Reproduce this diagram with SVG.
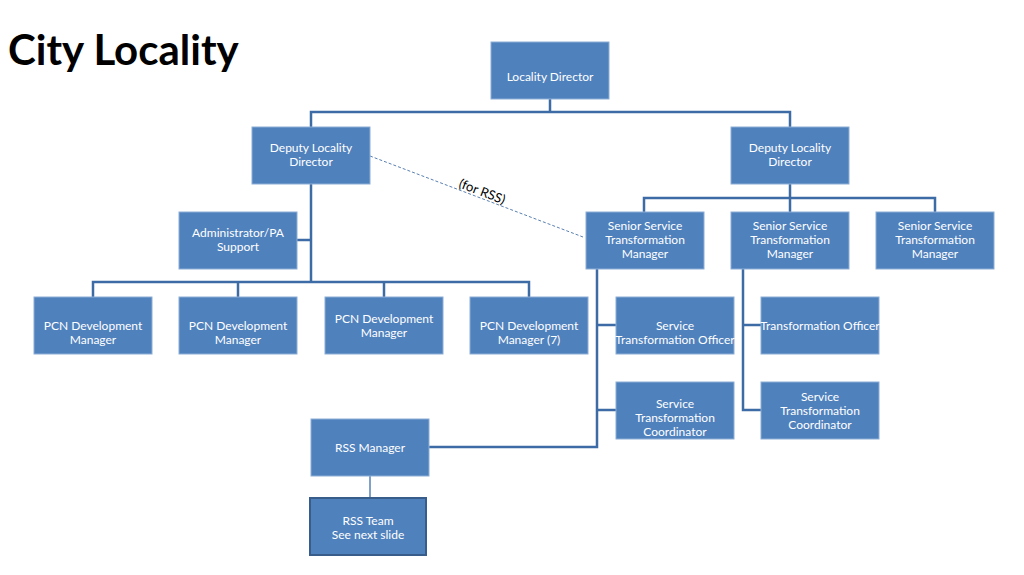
<svg xmlns="http://www.w3.org/2000/svg" width="1024" height="575" viewBox="0 0 1024 575">
<style>
.b{fill:#4f81bd;stroke:#8eaed6;stroke-width:1}
.t{font-family:Lato,"Liberation Sans",sans-serif;font-size:12px;fill:#fff;text-anchor:middle}
.c{fill:none;stroke:#3d6ba5;stroke-width:2.5}
</style>
<rect width="1024" height="575" fill="#fff"/>
<text x="8" y="65" font-family="Lato,'Liberation Sans',sans-serif" font-weight="bold" font-size="42" fill="#000">City Locality</text>
<g id="connectors">
<path class="c" d="M550,99V112M311,127V112H790V127"/>
<path class="c" d="M311,184V282M297,240H311M93,297V282H529V297M238,282V297M384,282V297"/>
<path class="c" d="M790,184V198M644,212V198H935V212M790,198V212"/>
<path class="c" d="M597,269V447H429M597,325H616M597,410H616"/>
<path class="c" d="M743,269V410H761M743,325H761"/>
<path d="M370,476V498" stroke="#7fa0c8" stroke-width="2"/>
<path d="M370,156L583,237" stroke="#5a80b0" stroke-width="1" stroke-dasharray="3,2" fill="none"/>
<text x="482" y="196" transform="rotate(21 482 192)" font-family="Lato,'Liberation Sans',sans-serif" font-size="13" text-anchor="middle" fill="#000">(for RSS)</text>
</g>
<g id="ld"><rect class="b" x="491" y="42" width="118" height="57"/><text class="t" x="550" y="81">Locality Director</text></g>
<g id="dld1"><rect class="b" x="252" y="127" width="118" height="57"/><text class="t" x="311" y="152">Deputy Locality</text><text class="t" x="311" y="166">Director</text></g>
<g id="dld2"><rect class="b" x="731" y="127" width="118" height="57"/><text class="t" x="790" y="152">Deputy Locality</text><text class="t" x="790" y="166">Director</text></g>
<g id="admin"><rect class="b" x="179" y="212" width="118" height="57"/><text class="t" x="238" y="237">Administrator/PA</text><text class="t" x="238" y="251">Support</text></g>
<g id="sstm1"><rect class="b" x="586" y="212" width="118" height="57"/><text class="t" x="645" y="230">Senior Service</text><text class="t" x="645" y="244">Transformation</text><text class="t" x="645" y="258">Manager</text></g>
<g id="sstm2"><rect class="b" x="731" y="212" width="118" height="57"/><text class="t" x="790" y="230">Senior Service</text><text class="t" x="790" y="244">Transformation</text><text class="t" x="790" y="258">Manager</text></g>
<g id="sstm3"><rect class="b" x="876" y="212" width="118" height="57"/><text class="t" x="935" y="230">Senior Service</text><text class="t" x="935" y="244">Transformation</text><text class="t" x="935" y="258">Manager</text></g>
<g id="pcn1"><rect class="b" x="34" y="297" width="118" height="57"/><text class="t" x="93" y="330">PCN Development</text><text class="t" x="93" y="344">Manager</text></g>
<g id="pcn2"><rect class="b" x="179" y="297" width="118" height="57"/><text class="t" x="238" y="330">PCN Development</text><text class="t" x="238" y="344">Manager</text></g>
<g id="pcn3"><rect class="b" x="325" y="297" width="118" height="57"/><text class="t" x="384" y="323">PCN Development</text><text class="t" x="384" y="337">Manager</text></g>
<g id="pcn4"><rect class="b" x="470" y="297" width="118" height="57"/><text class="t" x="529" y="330">PCN Development</text><text class="t" x="529" y="344">Manager (7)</text></g>
<g id="sto"><rect class="b" x="616" y="297" width="118" height="57"/><text class="t" x="675" y="330">Service</text><text class="t" x="675" y="344">Transformation Officer</text></g>
<g id="to"><rect class="b" x="761" y="297" width="118" height="57"/><text class="t" x="820" y="330">Transformation Officer</text></g>
<g id="stc1"><rect class="b" x="616" y="382" width="118" height="57"/><text class="t" x="675" y="408">Service</text><text class="t" x="675" y="422">Transformation</text><text class="t" x="675" y="436">Coordinator</text></g>
<g id="stc2"><rect class="b" x="761" y="382" width="118" height="57"/><text class="t" x="820" y="401">Service</text><text class="t" x="820" y="415">Transformation</text><text class="t" x="820" y="429">Coordinator</text></g>
<g id="rssm"><rect class="b" x="311" y="419" width="118" height="57"/><text class="t" x="370" y="452">RSS Manager</text></g>
<g id="rsst"><rect x="310" y="498" width="116" height="57" fill="#4f81bd" stroke="#385d8a" stroke-width="2"/><text class="t" x="368" y="525" font-size="11">RSS Team</text><text class="t" x="368" y="539" font-size="11">See next slide</text></g>
</svg>
